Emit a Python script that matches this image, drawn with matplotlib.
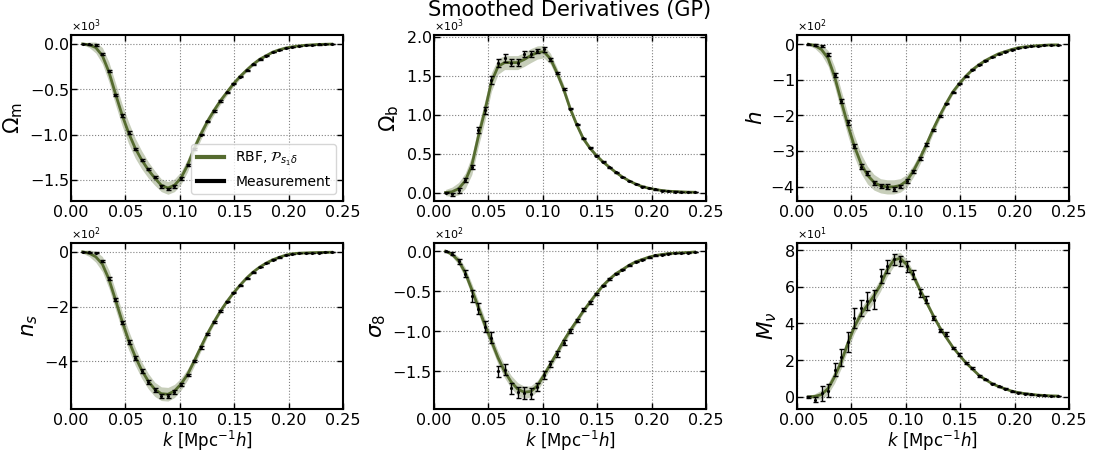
import numpy as np
import matplotlib
matplotlib.use("Agg")
import matplotlib.pyplot as plt
from matplotlib.lines import Line2D

# k bins
k = [0.0107, 0.0167, 0.0227, 0.0288, 0.0348, 0.0408, 0.0468, 0.0528, 0.0589, 0.0649,
     0.0709, 0.0769, 0.0829, 0.0890, 0.0950, 0.1010, 0.1070, 0.1130, 0.1191, 0.1251,
     0.1311, 0.1371, 0.1431, 0.1492, 0.1552, 0.1612, 0.1672, 0.1732, 0.1793, 0.1853,
     0.1913, 0.1973, 0.2033, 0.2094, 0.2154, 0.2214, 0.2274, 0.2334, 0.2395]

# Omega_m (x1e3)
om_meas = [0.0, -0.005, -0.01, -0.107, -0.30, -0.566, -0.79, -0.98, -1.16, -1.28,
           -1.38, -1.47, -1.57, -1.60, -1.57, -1.485, -1.34, -1.156, -1.0, -0.855,
           -0.74, -0.63, -0.535, -0.44, -0.36, -0.29, -0.225, -0.17, -0.13, -0.09,
           -0.065, -0.045, -0.032, -0.022, -0.015, -0.01, -0.006, -0.004, -0.002]
om_err = [0.003, 0.005, 0.008, 0.01, 0.012, 0.013, 0.015, 0.015, 0.015, 0.015,
          0.015, 0.015, 0.015, 0.015, 0.015, 0.013, 0.012, 0.01, 0.008, 0.007,
          0.006, 0.006, 0.005, 0.005, 0.004, 0.004, 0.003, 0.003, 0.003, 0.002,
          0.002, 0.002, 0.002, 0.001, 0.001, 0.001, 0.001, 0.001, 0.001]
om_gp = [0.0, -0.01, -0.04, -0.13, -0.31, -0.55, -0.78, -0.98, -1.15, -1.28,
         -1.39, -1.48, -1.56, -1.59, -1.56, -1.48, -1.34, -1.16, -1.0, -0.86,
         -0.74, -0.63, -0.535, -0.44, -0.36, -0.29, -0.225, -0.17, -0.13, -0.09,
         -0.065, -0.045, -0.032, -0.022, -0.015, -0.01, -0.006, -0.004, -0.002]
om_std = [0.01, 0.03, 0.06, 0.09, 0.11, 0.12, 0.12, 0.12, 0.11, 0.10,
          0.09, 0.08, 0.07, 0.07, 0.07, 0.07, 0.07, 0.065, 0.06, 0.05,
          0.045, 0.04, 0.035, 0.03, 0.025, 0.02, 0.018, 0.015, 0.012, 0.01,
          0.008, 0.007, 0.006, 0.005, 0.005, 0.004, 0.004, 0.004, 0.004]

# Omega_b (x1e3)
ob_meas = [0.0, -0.02, 0.03, 0.16, 0.33, 0.80, 1.06, 1.45, 1.66, 1.73,
           1.67, 1.67, 1.78, 1.78, 1.82, 1.84, 1.71, 1.54, 1.33, 1.08,
           0.875, 0.695, 0.575, 0.476, 0.395, 0.326, 0.258, 0.20, 0.15, 0.11,
           0.077, 0.056, 0.04, 0.026, 0.017, 0.013, 0.009, 0.005, 0.004]
ob_err = [0.01, 0.02, 0.03, 0.03, 0.03, 0.04, 0.045, 0.05, 0.05, 0.05,
          0.04, 0.04, 0.04, 0.035, 0.03, 0.035, 0.02, 0.015, 0.015, 0.012,
          0.01, 0.01, 0.008, 0.007, 0.006, 0.005, 0.005, 0.004, 0.004, 0.003,
          0.003, 0.002, 0.002, 0.002, 0.002, 0.001, 0.001, 0.001, 0.001]
ob_gp = [0.0, 0.01, 0.05, 0.15, 0.35, 0.72, 1.05, 1.42, 1.62, 1.67,
         1.67, 1.67, 1.71, 1.76, 1.80, 1.81, 1.72, 1.54, 1.33, 1.08,
         0.875, 0.695, 0.575, 0.476, 0.395, 0.326, 0.258, 0.20, 0.15, 0.11,
         0.077, 0.056, 0.04, 0.026, 0.017, 0.013, 0.009, 0.005, 0.004]
ob_std = [0.04, 0.06, 0.08, 0.1, 0.12, 0.13, 0.13, 0.12, 0.1, 0.09,
          0.09, 0.09, 0.09, 0.09, 0.085, 0.08, 0.07, 0.065, 0.06, 0.05,
          0.04, 0.035, 0.03, 0.025, 0.02, 0.018, 0.015, 0.012, 0.01, 0.008,
          0.007, 0.006, 0.005, 0.004, 0.004, 0.003, 0.003, 0.003, 0.003]

# h (x1e2)
h_meas = [0.0, -0.02, -0.06, -0.29, -0.86, -1.6, -2.2, -2.87, -3.44, -3.63,
          -3.91, -3.99, -4.0, -4.06, -4.0, -3.84, -3.57, -3.22, -2.82, -2.40,
          -2.02, -1.67, -1.35, -1.11, -0.90, -0.72, -0.58, -0.46, -0.36, -0.27,
          -0.21, -0.15, -0.10, -0.075, -0.056, -0.04, -0.03, -0.02, -0.02]
h_err = [0.01, 0.02, 0.03, 0.04, 0.05, 0.05, 0.06, 0.06, 0.06, 0.06,
         0.06, 0.06, 0.06, 0.06, 0.05, 0.05, 0.04, 0.04, 0.03, 0.03,
         0.02, 0.02, 0.02, 0.015, 0.015, 0.01, 0.01, 0.01, 0.01, 0.008,
         0.006, 0.005, 0.005, 0.004, 0.004, 0.003, 0.003, 0.003, 0.003]
h_gp = [0.0, -0.04, -0.15, -0.40, -0.92, -1.60, -2.26, -2.86, -3.35, -3.68,
        -3.88, -3.98, -4.01, -4.01, -3.97, -3.84, -3.57, -3.22, -2.82, -2.40,
        -2.02, -1.67, -1.35, -1.11, -0.90, -0.72, -0.58, -0.46, -0.36, -0.27,
        -0.21, -0.15, -0.10, -0.075, -0.056, -0.04, -0.03, -0.02, -0.02]
h_std = [0.03, 0.08, 0.15, 0.22, 0.28, 0.3, 0.3, 0.3, 0.28, 0.25,
         0.22, 0.2, 0.2, 0.2, 0.19, 0.18, 0.17, 0.16, 0.14, 0.12,
         0.1, 0.08, 0.07, 0.06, 0.05, 0.04, 0.035, 0.03, 0.025, 0.02,
         0.018, 0.015, 0.015, 0.012, 0.012, 0.01, 0.01, 0.01, 0.01]

# n_s (x1e2)
ns_meas = [0.0, -0.01, -0.03, -0.34, -0.98, -1.74, -2.57, -3.29, -3.87, -4.35,
           -4.76, -5.05, -5.27, -5.26, -5.12, -4.85, -4.50, -4.0, -3.49, -3.0,
           -2.57, -2.17, -1.82, -1.50, -1.22, -0.96, -0.74, -0.56, -0.41, -0.29,
           -0.20, -0.12, -0.07, -0.05, -0.04, -0.03, -0.025, -0.02, -0.015]
ns_err = [0.01, 0.02, 0.03, 0.04, 0.05, 0.06, 0.06, 0.07, 0.07, 0.07,
          0.07, 0.07, 0.07, 0.06, 0.06, 0.05, 0.05, 0.04, 0.04, 0.03,
          0.03, 0.03, 0.02, 0.02, 0.02, 0.015, 0.015, 0.01, 0.01, 0.01,
          0.008, 0.006, 0.005, 0.005, 0.004, 0.004, 0.003, 0.003, 0.003]
ns_gp = [0.0, -0.05, -0.18, -0.45, -1.0, -1.75, -2.52, -3.22, -3.82, -4.32,
         -4.72, -5.02, -5.18, -5.2, -5.08, -4.83, -4.48, -4.0, -3.49, -3.0,
         -2.57, -2.17, -1.82, -1.50, -1.22, -0.96, -0.74, -0.56, -0.41, -0.29,
         -0.20, -0.12, -0.07, -0.05, -0.04, -0.03, -0.025, -0.02, -0.015]
ns_std = [0.05, 0.12, 0.2, 0.28, 0.33, 0.35, 0.35, 0.35, 0.32, 0.3,
          0.28, 0.26, 0.25, 0.25, 0.24, 0.22, 0.2, 0.18, 0.15, 0.12,
          0.1, 0.08, 0.07, 0.06, 0.05, 0.04, 0.035, 0.03, 0.025, 0.02,
          0.018, 0.015, 0.015, 0.012, 0.012, 0.01, 0.01, 0.01, 0.01]

# sigma_8 (x1e2)
s8_meas = [0.0, -0.03, -0.125, -0.28, -0.56, -0.72, -0.94, -1.08, -1.5, -1.48,
           -1.71, -1.76, -1.77, -1.78, -1.69, -1.55, -1.41, -1.28, -1.14, -0.99,
           -0.87, -0.73, -0.64, -0.53, -0.43, -0.35, -0.28, -0.23, -0.175, -0.133,
           -0.104, -0.075, -0.054, -0.042, -0.03, -0.025, -0.02, -0.017, -0.01]
s8_err = [0.005, 0.015, 0.03, 0.04, 0.07, 0.07, 0.07, 0.07, 0.07, 0.07,
          0.07, 0.07, 0.07, 0.07, 0.05, 0.05, 0.04, 0.035, 0.03, 0.025,
          0.02, 0.02, 0.015, 0.012, 0.01, 0.01, 0.008, 0.007, 0.006, 0.005,
          0.004, 0.004, 0.003, 0.003, 0.003, 0.002, 0.002, 0.002, 0.002]
s8_gp = [0.0, -0.04, -0.12, -0.27, -0.48, -0.70, -0.92, -1.12, -1.33, -1.50,
         -1.63, -1.72, -1.76, -1.75, -1.68, -1.55, -1.41, -1.27, -1.12, -0.99,
         -0.87, -0.75, -0.64, -0.53, -0.43, -0.35, -0.28, -0.23, -0.175, -0.133,
         -0.104, -0.075, -0.054, -0.042, -0.03, -0.025, -0.02, -0.017, -0.01]
s8_std = [0.01, 0.03, 0.05, 0.065, 0.075, 0.08, 0.08, 0.08, 0.08, 0.08,
          0.08, 0.08, 0.075, 0.07, 0.065, 0.06, 0.055, 0.05, 0.045, 0.04,
          0.035, 0.03, 0.025, 0.022, 0.02, 0.018, 0.015, 0.013, 0.012, 0.01,
          0.008, 0.007, 0.006, 0.005, 0.005, 0.004, 0.004, 0.004, 0.004]

# M_nu (x1e1)
mn_meas = [0.0, -0.15, 0.18, 0.33, 1.48, 2.15, 2.99, 4.30, 4.85, 5.21,
           5.30, 6.58, 7.12, 7.49, 7.40, 7.12, 6.67, 5.66, 5.30, 4.30,
           3.61, 3.42, 2.66, 2.30, 1.84, 1.57, 1.15, 0.95, 0.71, 0.56,
           0.44, 0.29, 0.22, 0.16, 0.13, 0.09, 0.07, 0.05, 0.04]
mn_err = [0.05, 0.15, 0.4, 0.35, 0.35, 0.45, 0.55, 0.55, 0.45, 0.5,
          0.5, 0.4, 0.35, 0.3, 0.25, 0.3, 0.25, 0.2, 0.2, 0.12,
          0.1, 0.1, 0.08, 0.07, 0.06, 0.05, 0.05, 0.04, 0.04, 0.03,
          0.03, 0.02, 0.02, 0.02, 0.02, 0.01, 0.01, 0.01, 0.01]
mn_gp = [0.0, 0.02, 0.12, 0.45, 1.1, 1.9, 2.9, 3.8, 4.5, 5.0,
         5.5, 6.1, 6.9, 7.45, 7.55, 7.2, 6.6, 5.85, 5.15, 4.45,
         3.8, 3.25, 2.72, 2.28, 1.86, 1.52, 1.18, 0.94, 0.72, 0.56,
         0.43, 0.31, 0.23, 0.17, 0.13, 0.09, 0.07, 0.05, 0.04]
mn_std = [0.05, 0.15, 0.25, 0.3, 0.35, 0.35, 0.35, 0.35, 0.35, 0.35,
          0.35, 0.35, 0.35, 0.35, 0.32, 0.28, 0.25, 0.2, 0.18, 0.15,
          0.12, 0.1, 0.08, 0.07, 0.06, 0.05, 0.04, 0.04, 0.03, 0.03,
          0.02, 0.02, 0.02, 0.02, 0.02, 0.01, 0.01, 0.01, 0.01]

labels = [r"$\Omega_{\rm m}$", r"$\Omega_{\rm b}$", r"$h$",
          r"$n_s$", r"$\sigma_8$", r"$M_\nu$"]
scales = [1e3, 1e3, 1e2, 1e2, 1e2, 1e1]
meas = [om_meas, ob_meas, h_meas, ns_meas, s8_meas, mn_meas]
errs = [om_err, ob_err, h_err, ns_err, s8_err, mn_err]
gps = [om_gp, ob_gp, h_gp, ns_gp, s8_gp, mn_gp]
stds = [om_std, ob_std, h_std, ns_std, s8_std, mn_std]
ylims = [(-1.735, 0.103), (-0.11, 2.03), (-4.41, 0.27),
         (-5.74, 0.34), (-1.97, 0.108), (-0.67, 8.41)]

gp_col = "#556B2F"

fig = plt.figure(figsize=(10.93, 4.55), dpi=100)
lefts = [0.065, 0.397, 0.729]
bottoms = [0.558, 0.101]

kk = np.array(k)
for i in range(6):
    row, col = divmod(i, 3)
    ax = fig.add_axes([lefts[col], bottoms[row], 0.249, 0.366])
    s = scales[i]
    m = np.array(meas[i]) * s
    e = np.array(errs[i]) * s
    g = np.array(gps[i]) * s
    sd = np.array(stds[i]) * s
    ax.fill_between(kk, g - sd, g + sd, color=gp_col, alpha=0.33, lw=0)
    ax.plot(kk, g, color=gp_col, lw=2, zorder=3)
    ax.errorbar(kk, m, yerr=e, fmt=".", color="black", ms=2.5,
                elinewidth=1, capsize=1.8, capthick=1, zorder=4)
    ax.set_xlim(0, 0.25)
    ax.set_ylim(ylims[i][0] * s, ylims[i][1] * s)
    ax.set_xticks([0.0, 0.05, 0.10, 0.15, 0.20, 0.25])
    ax.grid(True, ls=":", color="gray", lw=0.8)
    ax.tick_params(direction="in", top=True, right=True, labelsize=11.5, width=1, length=4)
    ax.tick_params(axis="y", pad=1.5)
    ax.tick_params(axis="x", pad=2.5)
    ax.ticklabel_format(axis="y", style="sci", scilimits=(0, 0), useMathText=True)
    ax.yaxis.get_offset_text().set_fontsize(8)
    for sp in ax.spines.values():
        sp.set_linewidth(1.5)
    ax.set_ylabel(labels[i], fontsize=15.5, labelpad=3)
    if row == 1:
        ax.set_xlabel(r"$k\ [{\rm Mpc}^{-1}h]$", fontsize=12, labelpad=1)
    if i == 0:
        handles = [Line2D([], [], color=gp_col, lw=3),
                   Line2D([], [], color="black", lw=3)]
        ax.legend(handles, [r"RBF, $\mathcal{P}_{s_1\delta}$", "Measurement"],
                  loc="lower right", fontsize=10, framealpha=0.8)

fig.text(0.521, 0.999, "Smoothed Derivatives (GP)", fontsize=15,
         ha="center", va="top")
fig.savefig("out.png", dpi=100)
